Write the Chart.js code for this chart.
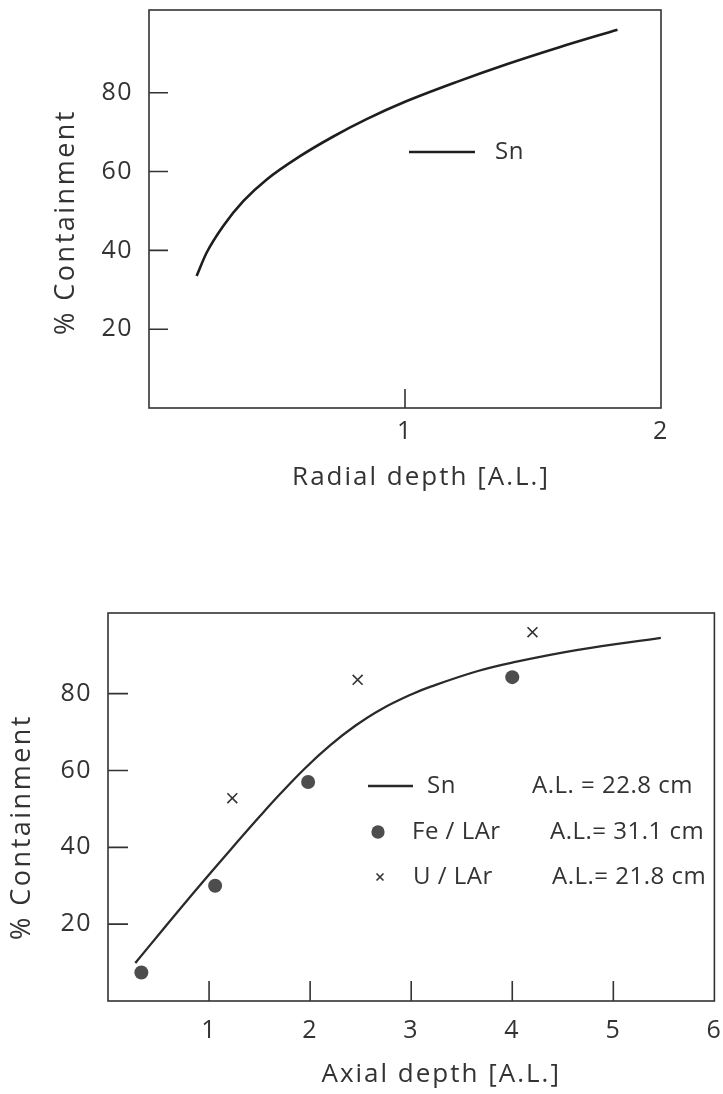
<!DOCTYPE html>
<html>
<head>
<meta charset="utf-8">
<script src="https://cdn.jsdelivr.net/npm/chart.js@4.4.1/dist/chart.umd.min.js"></script>
<style>
  html, body { margin: 0; padding: 0; background: #fff; }
  body { width: 723px; height: 1094px; position: relative; overflow: hidden; }
  canvas { position: absolute; left: 0; }
  #radial { top: 0; }
  #axial { top: 540px; }
</style>
</head>
<body>
<canvas id="radial" width="723" height="540"></canvas>
<canvas id="axial" width="723" height="554"></canvas>
<script>
'use strict';

// top panel: radial containment, Sn
var radialDepth = [0.186, 0.225, 0.29, 0.37, 0.46, 0.59, 0.72, 0.85, 1.0, 1.2, 1.4, 1.6, 1.83];
var radialSn    = [33.5, 39.4, 46.2, 52.6, 58.0, 63.9, 68.9, 73.3, 77.7, 82.7, 87.3, 91.5, 96.0];

// bottom panel: axial containment
var axialDepth = [0.27, 0.55, 0.87, 1.2, 1.5, 1.7, 1.95, 2.2, 2.45, 2.7, 3.0, 3.2, 3.66, 4.0, 4.65, 5.47];
var axialSn    = [9.9, 18.8, 28.9, 39.0, 48.0, 53.8, 60.6, 66.6, 71.7, 75.9, 79.8, 81.9, 85.9, 88.1, 91.4, 94.5];
var feDepth = [0.33, 1.06, 1.98, 4.0];
var feLAr   = [7.4, 30.0, 57.0, 84.3];
var uDepth  = [1.23, 2.47, 4.2];
var uLAr    = [52.8, 83.6, 96.0];

var seriesNames = ['Sn', 'Fe / LAr', 'U / LAr'];
var absLengths  = ['A.L. = 22.8 cm', 'A.L.= 31.1 cm', 'A.L.= 21.8 cm'];

var yTicks = [20, 40, 60, 80];
var radialTicks = [1, 2];
var axialTicks = [1, 2, 3, 4, 5, 6];

var yTitle = '% Containment';
var FONT = '"Open Sans", sans-serif';
var INK = '#333';

function pts(xs, ys) {
  return xs.map(function (x, i) { return { x: x, y: ys[i] }; });
}

function fixedTicks(values) {
  return function (scale) {
    scale.ticks = values.map(function (v) { return { value: v }; });
  };
}

// box round the plot plus short tick marks pointing inwards
var framePlugin = {
  id: 'frame',
  beforeDraw: function (chart) {
    chart.ctx.letterSpacing = '1.5px';
  },
  afterDatasetsDraw: function (chart, args, opts) {
    var a = chart.chartArea, ctx = chart.ctx;
    var xs = chart.scales.x, ys = chart.scales.y;
    ctx.save();
    ctx.strokeStyle = INK;
    ctx.lineWidth = 1.6;
    ctx.strokeRect(a.left, a.top, a.right - a.left, a.bottom - a.top);
    ctx.beginPath();
    xs.ticks.forEach(function (t) {
      if (t.value >= xs.max) return;
      var px = xs.getPixelForValue(t.value);
      ctx.moveTo(px, a.bottom);
      ctx.lineTo(px, a.bottom - opts.len);
    });
    ys.ticks.forEach(function (t) {
      var py = ys.getPixelForValue(t.value);
      ctx.moveTo(a.left, py);
      ctx.lineTo(a.left + opts.len, py);
    });
    ctx.stroke();
    ctx.restore();
  }
};

// axis titles; the originals sit a little off the plot centre
var titlesPlugin = {
  id: 'titles',
  afterDraw: function (chart, args, opts) {
    var a = chart.chartArea, ctx = chart.ctx;
    ctx.save();
    ctx.fillStyle = INK;
    ctx.textAlign = 'center';
    ctx.textBaseline = 'middle';
    ctx.font = '26px ' + FONT;
    ctx.letterSpacing = '2px';
    ctx.fillText(opts.x, (a.left + a.right) / 2 + opts.xShift, opts.xY);
    ctx.font = '27px ' + FONT;
    ctx.letterSpacing = '2.5px';
    ctx.translate(opts.yX, (a.top + a.bottom) / 2 + opts.yShift);
    ctx.rotate(-Math.PI / 2);
    ctx.fillText(opts.y, 0, 0);
    ctx.restore();
  }
};

// legend written inside the plot, one row per dataset
var insideLegend = {
  id: 'insideLegend',
  afterDatasetsDraw: function (chart, args, opts) {
    var ctx = chart.ctx;
    ctx.save();
    ctx.font = '24px ' + FONT;
    ctx.letterSpacing = '0.5px';
    ctx.textBaseline = 'middle';
    chart.data.datasets.forEach(function (ds, i) {
      var y = opts.rowY[i];
      ctx.fillStyle = ds.backgroundColor || INK;
      ctx.strokeStyle = ds.borderColor || INK;
      if (!ds.pointRadius) {
        ctx.lineWidth = ds.borderWidth;
        ctx.beginPath();
        ctx.moveTo(opts.sampleX[i], y);
        ctx.lineTo(opts.sampleEnd, y);
        ctx.stroke();
      } else {
        ctx.lineWidth = ds.borderWidth || 1;
        Chart.helpers.drawPoint(ctx, {
          pointStyle: ds.pointStyle, radius: ds.pointRadius * opts.markScale[i],
          rotation: 0, borderWidth: ds.borderWidth || 0
        }, opts.sampleX[i], y);
      }
      ctx.fillStyle = INK;
      ctx.fillText(ds.label, opts.labelX[i], y);
      if (opts.extra) ctx.fillText(opts.extra[i], opts.extraX[i], y);
    });
    ctx.restore();
  }
};

function scaleOptions(cfg) {
  return {
    x: {
      type: 'linear', min: cfg.xMin, max: cfg.xMax,
      afterBuildTicks: fixedTicks(cfg.xTicks),
      afterFit: function (s) { s.height = cfg.xHeight; s.paddingLeft = 0; s.paddingRight = 0; },
      grid: { display: false, drawTicks: false },
      border: { display: false },
      ticks: { font: { size: 25, family: FONT }, color: INK, padding: cfg.xPad, maxRotation: 0, autoSkip: false }
    },
    y: {
      type: 'linear', min: 0, max: 101,
      afterBuildTicks: fixedTicks(yTicks),
      afterFit: function (s) { s.width = cfg.yWidth; s.paddingTop = 0; s.paddingBottom = 0; },
      grid: { display: false, drawTicks: false },
      border: { display: false },
      ticks: { font: { size: 25, family: FONT }, color: INK, padding: 16, autoSkip: false }
    }
  };
}

new Chart(document.getElementById('radial'), {
  type: 'scatter',
  data: {
    datasets: [{
      label: seriesNames[0],
      data: pts(radialDepth, radialSn),
      showLine: true, pointRadius: 0,
      borderColor: '#1e1e1e', borderWidth: 2.6,
      cubicInterpolationMode: 'monotone'
    }]
  },
  options: {
    responsive: false, animation: false,
    layout: { padding: { top: 10, right: 62, left: 0, bottom: 0 } },
    scales: scaleOptions({ xMin: 0, xMax: 2, xTicks: radialTicks, xHeight: 132, xPad: 9, yWidth: 149 }),
    plugins: {
      legend: { display: false }, tooltip: { enabled: false },
      frame: { len: 19 },
      titles: { x: 'Radial depth [A.L.]', xShift: 16, xY: 478, y: yTitle, yX: 66, yShift: 13 },
      insideLegend: { rowY: [152], sampleX: [409], sampleEnd: 475, labelX: [495] }
    }
  },
  plugins: [framePlugin, titlesPlugin, insideLegend]
});

new Chart(document.getElementById('axial'), {
  type: 'scatter',
  data: {
    datasets: [{
      label: seriesNames[0],
      data: pts(axialDepth, axialSn),
      showLine: true, pointRadius: 0,
      borderColor: '#2a2a2a', borderWidth: 2.3,
      tension: 0.4
    }, {
      label: seriesNames[1],
      data: pts(feDepth, feLAr),
      pointStyle: 'circle', pointRadius: 7, borderWidth: 0,
      backgroundColor: '#4d4d4d', borderColor: '#4d4d4d'
    }, {
      label: seriesNames[2],
      data: pts(uDepth, uLAr),
      pointStyle: 'crossRot', pointRadius: 7, borderWidth: 1.6,
      backgroundColor: INK, borderColor: INK
    }]
  },
  options: {
    responsive: false, animation: false,
    layout: { padding: { top: 73, right: 6, left: 0, bottom: 0 } },
    scales: scaleOptions({ xMin: 0, xMax: 6, xTicks: axialTicks, xHeight: 93, xPad: 15, yWidth: 108 }),
    plugins: {
      legend: { display: false }, tooltip: { enabled: false },
      frame: { len: 20 },
      titles: { x: 'Axial depth [A.L.]', xShift: 30, xY: 535, y: yTitle, yX: 22, yShift: 20 },
      insideLegend: {
        rowY: [246, 292, 337], sampleX: [368, 378, 380], sampleEnd: 413, markScale: [1, 0.95, 0.7],
        labelX: [427, 412, 413], extra: absLengths, extraX: [532, 550, 552]
      }
    }
  },
  plugins: [framePlugin, titlesPlugin, insideLegend]
});
</script>
</body>
</html>
